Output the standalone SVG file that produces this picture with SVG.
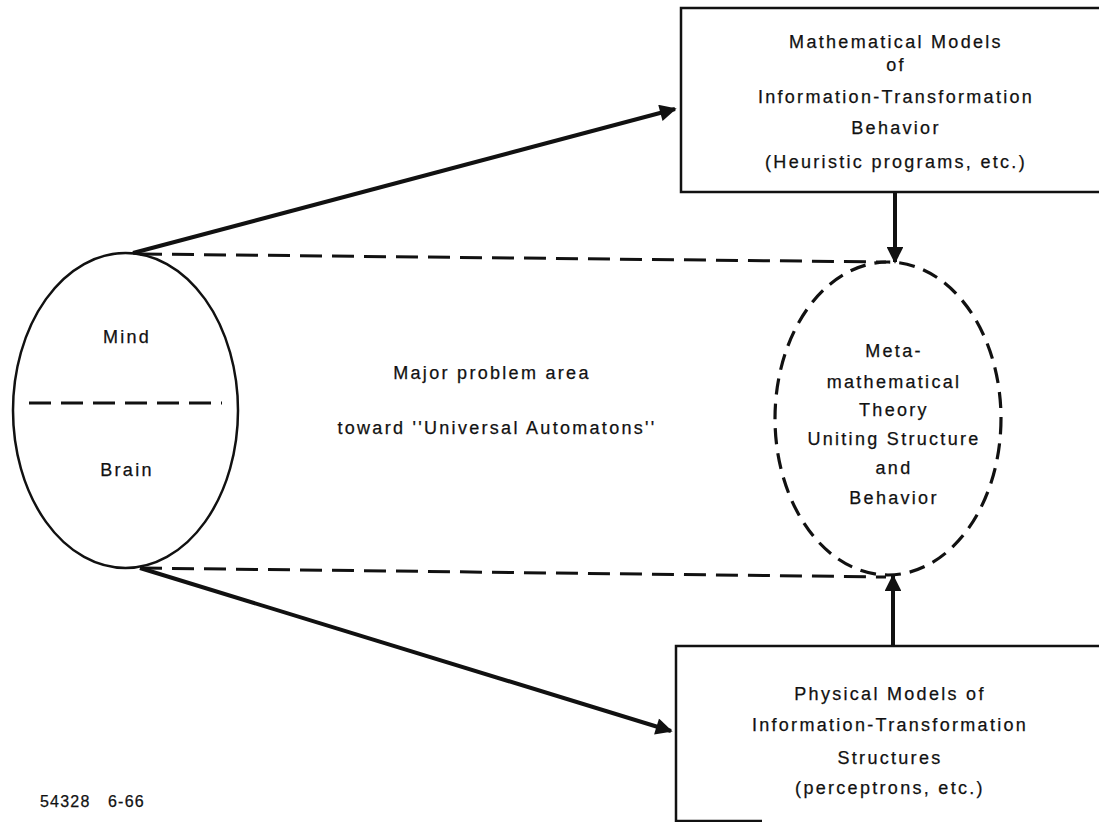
<svg xmlns="http://www.w3.org/2000/svg" width="1099" height="822" viewBox="0 0 1099 822">
<style>
text{font-family:"Liberation Sans",Arial,sans-serif;font-size:18px;letter-spacing:2.3px;fill:#111;stroke:#111;stroke-width:0.25;text-anchor:middle}
.solid{fill:none;stroke:#111;stroke-width:2.5}
.dash{fill:none;stroke:#111;stroke-width:3;stroke-dasharray:22 10}
.edash{fill:none;stroke:#111;stroke-width:3.2;stroke-dasharray:16 9}
.arrow{fill:none;stroke:#111;stroke-width:4}
</style>
<defs>
<marker id="ah" viewBox="0 0 10 10" refX="9" refY="5" markerWidth="5.2" markerHeight="4.2" orient="auto" markerUnits="strokeWidth">
<path d="M0,0 L10,5 L0,10 z" fill="#111"/>
</marker>
</defs>
<rect width="1099" height="822" fill="#fff"/>
<g id="mind-brain">
<ellipse class="solid" cx="125.5" cy="410.5" rx="112.5" ry="157.5"/>
<line class="dash" x1="29" y1="403" x2="222" y2="403"/>
<text x="127" y="343">Mind</text>
<text x="127" y="476">Brain</text>
</g>
<g id="math-models">
<path class="solid" d="M1110,8 H681 V192 H1110"/>
<text x="896" y="48">Mathematical Models</text>
<text x="896" y="71">of</text>
<text x="896" y="103">Information-Transformation</text>
<text x="896" y="134">Behavior</text>
<text x="896" y="168">(Heuristic programs, etc.)</text>
</g>
<g id="meta-theory">
<ellipse class="edash" cx="888" cy="418.5" rx="113" ry="156.5"/>
<text x="894" y="357">Meta-</text>
<text x="894" y="388">mathematical</text>
<text x="894" y="416">Theory</text>
<text x="894" y="445">Uniting Structure</text>
<text x="894" y="474">and</text>
<text x="894" y="504">Behavior</text>
</g>
<g id="physical-models">
<path class="solid" d="M1110,646 H676 V821 H762"/>
<text x="890" y="700">Physical Models of</text>
<text x="890" y="731">Information-Transformation</text>
<text x="890" y="764">Structures</text>
<text x="890" y="794">(perceptrons, etc.)</text>
</g>
<g id="problem-area">
<text x="492" y="379">Major problem area</text>
<text x="497" y="434">toward ''Universal Automatons''</text>
</g>
<g id="label">
<text x="40" y="807" style="font-size:16px;letter-spacing:1.2px;text-anchor:start">54328</text>
<text x="108" y="807" style="font-size:16px;letter-spacing:1.2px;text-anchor:start">6-66</text>
</g>
<g id="connectors">
<line class="dash" x1="140" y1="254" x2="886" y2="262"/>
<line class="dash" x1="140" y1="568" x2="886" y2="577"/>
<line class="arrow" x1="133" y1="253" x2="675" y2="109" marker-end="url(#ah)"/>
<line class="arrow" x1="140" y1="568" x2="671" y2="731" marker-end="url(#ah)"/>
<line class="arrow" x1="895" y1="192" x2="895" y2="262" marker-end="url(#ah)"/>
<line class="arrow" x1="893" y1="646" x2="893" y2="576" marker-end="url(#ah)"/>
</g>
</svg>
